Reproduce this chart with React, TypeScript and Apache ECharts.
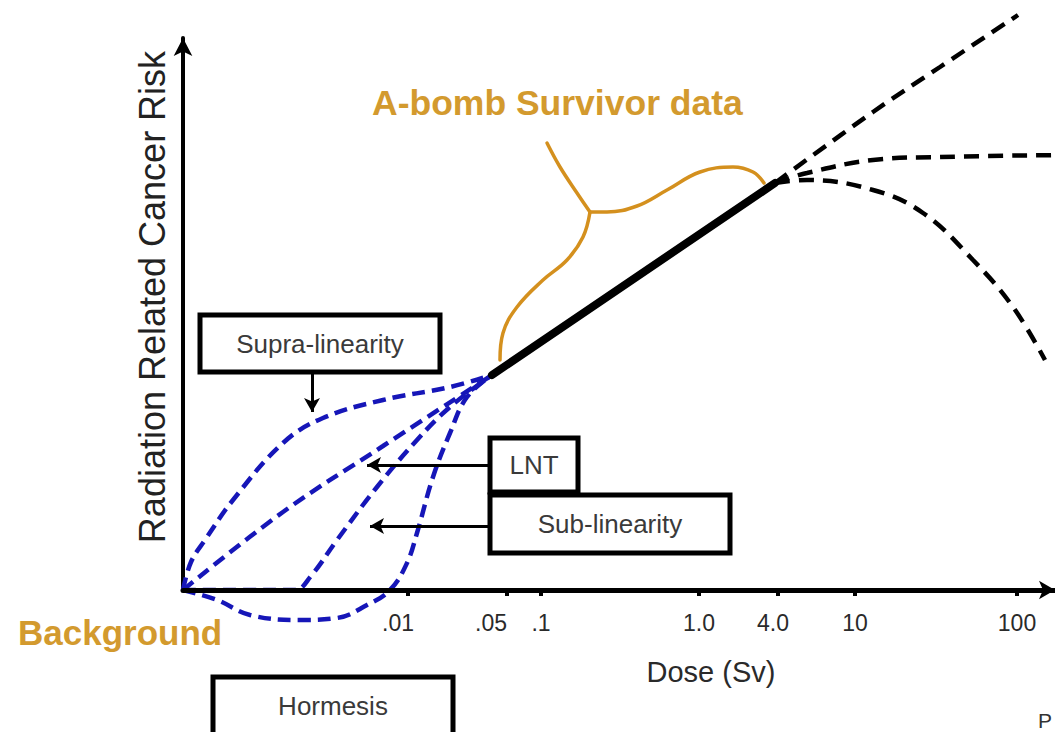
import React, { useEffect, useRef } from "react";
import * as echarts from "echarts";

// Tick positions along the schematic dose axis, label anchor positions and labels
const X_TICKS = [225, 324, 358, 516, 595, 672, 834];
const X_LABEL_POS = [215, 308, 358, 516, 590, 672, 834];
const X_TICK_LABELS = [".01", ".05", ".1", "1.0", "4.0", "10", "100"];

// Low-dose hypotheses (blue dashed)
const supraLinear = [[0, 0], [8, 28], [22, 50], [50, 90], [100, 147], [140, 172], [200, 190], [267, 203], [309, 215]];
const lnt = [[0, 0], [100, 78], [200, 144], [309, 215]];
const subLinear = [[0, 0], [70, 0], [112, 0], [128, 14], [154, 50], [194, 103], [234, 150], [267, 183], [309, 215]];
const hormesis = [[0, 0], [34, -10], [67, -25], [117, -30], [154, -28], [184, -15], [207, 0], [224, 27], [234, 57], [250, 113], [267, 157], [284, 193], [309, 215]];

// A-bomb survivor data range (solid)
const survivorData = [[309, 215], [592, 407]];

// High-dose extrapolations (black dashed)
const highUp = [[592, 407], [690, 478], [757, 523], [835, 575]];
const highPlateau = [[592, 407], [624, 417], [690, 430], [757, 433], [880, 435]];
const highDecline = [[592, 407], [624, 410], [690, 400], [740, 377], [790, 330], [830, 283], [862, 230]];

// Brace over the survivor data
const braceLeft = [[317, 230], [320, 257], [334, 283], [360, 310], [384, 330], [400, 353], [407, 378]];
const braceStem = [[407, 378], [394, 397], [377, 423], [364, 447]];
const braceRight = [[407, 378], [424, 378], [454, 384], [484, 400], [517, 418], [550, 423], [570, 418], [581, 407]];

// Annotation boxes: label, centre, size (px)
const boxLabels = ["Supra-linearity", "LNT", "Sub-linearity", "Hormesis"];
const boxCentres = [[137, 246.5], [351, 125], [427, 66], [150, -116]];
const boxSizes = [[240, 57], [88, 54], [240, 58], [240, 58]];

// Pointer arrows: from, to
const arrowLines = [
  [[129, 218], [129, 178]],
  [[307, 125], [184, 125]],
  [[307, 64], [187, 64]],
  [[154, -87], [154, -28]],
];

const FONT = '"Liberation Sans", Arial, Helvetica, sans-serif';
const BLUE = "#1616B8";
const ORANGE = "#D4901E";
const ORANGE_TEXT = "#D39A2E";

function dashed(data: number[][], color: string, width: number, dash: number[]) {
  return {
    type: "line",
    data,
    smooth: 0.4,
    symbol: "none",
    clip: false,
    z: 3,
    lineStyle: { color, width, type: dash, cap: "butt" },
  };
}

function solid(data: number[][], color: string, width: number, smooth: number) {
  return {
    type: "line",
    data,
    smooth,
    symbol: "none",
    clip: false,
    z: 3,
    lineStyle: { color, width, type: "solid", cap: "round" },
  };
}

export default function App() {
  const ref = useRef<HTMLDivElement>(null);

  useEffect(() => {
    if (!ref.current) return;
    const chart = echarts.init(ref.current, undefined, { renderer: "svg" });
    const labelOf = (v: number) => {
      const i = X_LABEL_POS.indexOf(v);
      return i >= 0 ? X_TICK_LABELS[i] : "";
    };
    chart.setOption({
      animation: false,
      backgroundColor: "#ffffff",
      grid: { left: 183, right: 0, top: 38, bottom: 142 },
      xAxis: {
        type: "value",
        min: 0,
        max: 872,
        z: 4,
        axisLine: {
          show: true,
          symbol: ["none", "arrow"],
          symbolSize: [14, 16],
          lineStyle: { color: "#000", width: 5 },
        },
        axisTick: {
          show: true,
          customValues: X_TICKS,
          length: 6,
          lineStyle: { color: "#000", width: 4 },
        },
        axisLabel: {
          customValues: X_LABEL_POS,
          formatter: labelOf,
          fontSize: 23,
          color: "#2a2a2a",
          fontFamily: FONT,
          margin: 21,
        },
        splitLine: { show: false },
      },
      yAxis: {
        type: "value",
        min: 0,
        max: 552,
        axisLine: {
          show: true,
          symbol: ["none", "arrow"],
          symbolSize: [14, 18],
          lineStyle: { color: "#000", width: 4 },
        },
        axisTick: { show: false },
        axisLabel: { show: false },
        splitLine: { show: false },
      },
      graphic: [
        {
          type: "text",
          x: 152,
          y: 297,
          rotation: Math.PI / 2,
          style: {
            text: "Radiation Related Cancer Risk",
            fill: "#222",
            fontSize: 36,
            fontFamily: FONT,
            align: "center",
            verticalAlign: "middle",
          },
        },
        {
          type: "text",
          x: 372,
          y: 103,
          style: {
            text: "A-bomb Survivor data",
            fill: ORANGE_TEXT,
            fontSize: 35.5,
            fontWeight: "bold",
            fontFamily: FONT,
            verticalAlign: "middle",
          },
        },
        {
          type: "text",
          x: 18,
          y: 632,
          style: {
            text: "Background",
            fill: ORANGE_TEXT,
            fontSize: 35,
            fontWeight: "bold",
            fontFamily: FONT,
            verticalAlign: "middle",
          },
        },
        {
          type: "text",
          x: 711,
          y: 672,
          style: {
            text: "Dose (Sv)",
            fill: "#2a2a2a",
            fontSize: 29,
            fontFamily: FONT,
            align: "center",
            verticalAlign: "middle",
          },
        },
        {
          type: "text",
          x: 1038,
          y: 720,
          style: {
            text: "P",
            fill: "#333",
            fontSize: 21,
            fontFamily: FONT,
            verticalAlign: "middle",
          },
        },
      ],
      series: [
        dashed(supraLinear, BLUE, 4.5, [13, 7]),
        dashed(lnt, BLUE, 4.5, [13, 7]),
        dashed(subLinear, BLUE, 4.5, [13, 7]),
        dashed(hormesis, BLUE, 4.5, [13, 7]),
        solid(survivorData, "#000", 8, 0),
        dashed(highUp, "#000", 4.5, [15, 9]),
        dashed(highPlateau, "#000", 4.5, [15, 9]),
        dashed(highDecline, "#000", 4.5, [15, 9]),
        solid(braceLeft, ORANGE, 3.5, 0.4),
        solid(braceStem, ORANGE, 3.5, 0.4),
        solid(braceRight, ORANGE, 3.5, 0.4),
        {
          type: "line",
          data: [],
          symbol: "none",
          clip: false,
          z: 4,
          markLine: {
            silent: true,
            symbol: ["none", "arrow"],
            symbolSize: [12, 14],
            label: { show: false },
            lineStyle: { color: "#000", width: 3, type: "solid" },
            data: arrowLines.map(([a, b]) => [{ coord: a }, { coord: b }]),
          },
        },
        {
          type: "custom",
          clip: false,
          z: 5,
          silent: true,
          data: boxCentres.map((c, i) => [c[0], c[1], boxSizes[i][0], boxSizes[i][1]]),
          renderItem: (params: any, api: any) => {
            const c = api.coord([api.value(0), api.value(1)]);
            const w = api.value(2);
            const h = api.value(3);
            return {
              type: "group",
              children: [
                {
                  type: "rect",
                  shape: { x: c[0] - w / 2, y: c[1] - h / 2, width: w, height: h },
                  style: { fill: "#ffffff", stroke: "#000000", lineWidth: 5 },
                },
                {
                  type: "text",
                  x: c[0],
                  y: c[1],
                  style: {
                    text: boxLabels[params.dataIndex],
                    fill: "#3a3a3a",
                    fontSize: 26,
                    fontFamily: FONT,
                    align: "center",
                    verticalAlign: "middle",
                  },
                },
              ],
            };
          },
        },
      ],
    });
    return () => chart.dispose();
  }, []);

  return (
    <div
      ref={ref}
      style={{ position: "fixed", left: 0, top: 0, width: 1055, height: 732, background: "#fff" }}
    />
  );
}
